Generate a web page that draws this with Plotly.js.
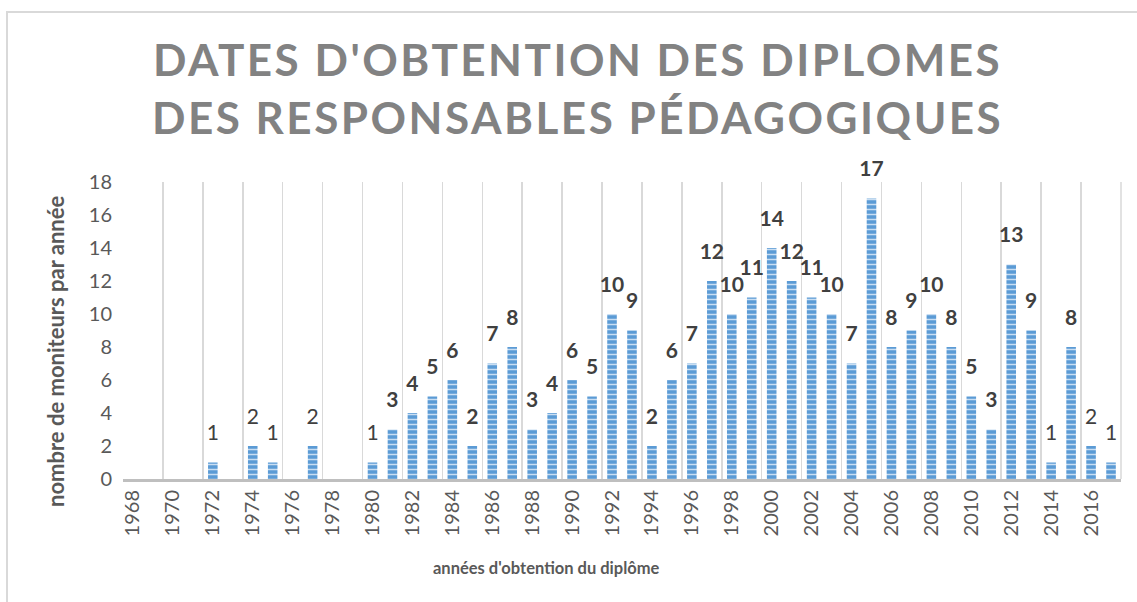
<!DOCTYPE html>
<html>
<head>
<meta charset="utf-8">
<script src="https://cdn.plot.ly/plotly-3.0.1.min.js"></script>
<style>
  html, body { margin: 0; padding: 0; background: #fff; }
  #wrap { position: relative; width: 1137px; height: 602px; overflow: hidden; }
  #chart { position: absolute; left: 0; top: 0; width: 1137px; height: 602px; }
  #frame { position: absolute; left: 6px; top: 11px; width: 1150px; height: 620px;
           border: 2px solid #d9d9d9; pointer-events: none; }
  .gtitle { letter-spacing: 2.5px; }
</style>
</head>
<body>
<div id="wrap">
  <div id="chart"></div>
  <div id="frame"></div>
</div>
<script>
// ---- data ----
const years = [];
for (let y = 1968; y <= 2017; y++) years.push(String(y));

const counts = [
  0, 0, 0, 0, 1, 0, 2, 1, 0, 2,      // 1968-1977
  0, 0, 1, 3, 4, 5, 6, 2, 7, 8,      // 1978-1987
  3, 4, 6, 5, 10, 9, 2, 6, 7, 12,    // 1988-1997
  10, 11, 14, 12, 11, 10, 7, 17, 8, 9, // 1998-2007
  10, 8, 5, 3, 13, 9, 1, 8, 2, 1     // 2008-2017
];

const titleText = "DATES D'OBTENTION DES DIPLOMES<br>DES RESPONSABLES PÉDAGOGIQUES";
const xTitle = "années d'obtention du diplôme";
const yTitle = "nombre de moniteurs par année";

// ---- labels (only non-zero) ----
const labelX = [], labelY = [], labelT = [], labelW = [];
years.forEach((yr, i) => {
  const v = counts[i];
  if (v > 0) {
    labelX.push(yr);
    labelY.push(v);
    labelT.push(String(v));
    const yn = Number(yr);
    labelW.push((v === 1 || (v === 2 && (yn < 1980 || yn > 2013))) ? 'normal' : 'bold');
  }
});

const font = 'Lato, "Open Sans", sans-serif';

const bars = {
  type: 'bar',
  x: years,
  y: counts,
  marker: {
    color: '#5b9bd5',
    line: { width: 0 },
    pattern: { shape: '-', fgcolor: '#c9def2', bgcolor: '#5b9bd5', size: 5, solidity: 0.3 }
  },
  hoverinfo: 'x+y'
};

const labels = {
  type: 'scatter',
  mode: 'markers+text',
  x: labelX,
  y: labelY,
  text: labelT,
  textposition: 'top center',
  marker: { size: 26, color: 'rgba(0,0,0,0)' },
  textfont: { family: font, size: 21, color: '#404040', weight: labelW },
  hoverinfo: 'skip',
  cliponaxis: false,
  showlegend: false
};

const layout = {
  width: 1137,
  height: 602,
  margin: { l: 123, r: 16, t: 182, b: 123 },
  paper_bgcolor: 'rgba(0,0,0,0)',
  plot_bgcolor: 'rgba(0,0,0,0)',
  showlegend: false,
  bargap: 0.52,
  font: { family: font, color: '#595959' },
  title: {
    text: titleText,
    font: { family: font, size: 44, color: '#828282', weight: 'bold' },
    xref: 'container', x: 0.508, xanchor: 'center',
    yref: 'container', y: 0.873, yanchor: 'middle'
  },
  xaxis: {
    type: 'category',
    categoryorder: 'array',
    categoryarray: years,
    range: [-0.5, years.length - 0.5],
    dtick: 2,
    tick0: 0,
    tickson: 'boundaries',
    tickangle: -90,
    tickfont: { family: font, size: 20, color: '#595959' },
    ticks: '',
    showgrid: true,
    gridcolor: '#d9d9d9',
    gridwidth: 1.5,
    showline: true,
    linecolor: '#bfbfbf',
    linewidth: 3,
    zeroline: false,
    fixedrange: true
  },
  yaxis: {
    range: [0, 18],
    dtick: 2,
    tick0: 0,
    showgrid: false,
    zeroline: false,
    showline: false,
    ticks: '',
    ticklabelstandoff: 10,
    tickfont: { family: font, size: 20, color: '#595959' },
    fixedrange: true
  },
  shapes: [
    {
      type: 'line', xref: 'paper', yref: 'paper',
      x0: 1, x1: 1, y0: 0, y1: 1,
      line: { color: '#d9d9d9', width: 1.5 }, layer: 'below'
    }
  ],
  annotations: [
    {
      text: xTitle, xref: 'paper', yref: 'paper',
      x: 0.424, y: -0.30, xanchor: 'center', yanchor: 'middle',
      showarrow: false,
      font: { family: font, size: 16.5, color: '#595959', weight: 'bold' }
    },
    {
      text: yTitle, xref: 'paper', yref: 'paper',
      x: -0.067, y: 0.428, xanchor: 'center', yanchor: 'middle',
      textangle: -90, showarrow: false,
      font: { family: font, size: 22, color: '#595959', weight: 'bold' }
    }
  ]
};

Plotly.newPlot('chart', [bars, labels], layout, { displayModeBar: false, staticPlot: true });
</script>
</body>
</html>
